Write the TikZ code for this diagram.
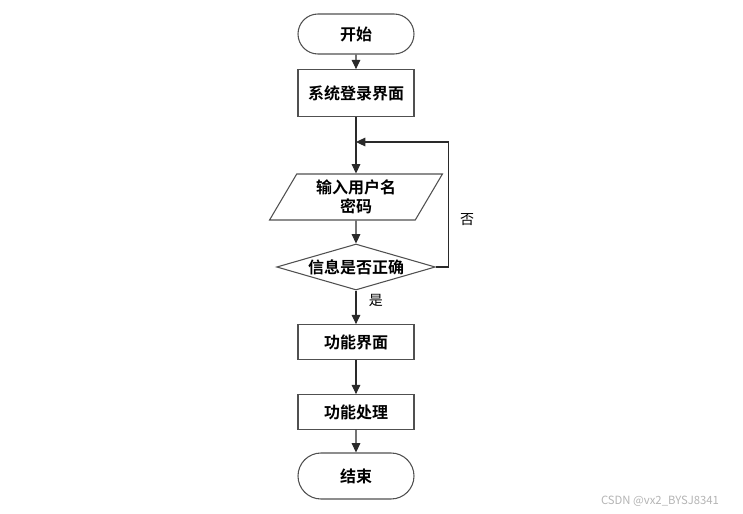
\documentclass[tikz,border=0pt]{standalone}
\usepackage{fontspec}
\setmainfont{Noto Sans CJK SC}
\newfontfamily\cjkbold{Noto Sans CJK SC Bold}
\usetikzlibrary{arrows.meta, positioning, shapes.geometric, shapes.misc}
\definecolor{lineGray}{HTML}{505050}
\definecolor{arrowDark}{HTML}{2A2A2A}
\definecolor{markGray}{HTML}{B4B4B4}

\begin{document}
\begin{tikzpicture}[
    x=0.75pt, y=-0.75pt,
    base/.style={draw=lineGray, line width=0.8pt, font=\cjkbold\fontsize{12}{14}\selectfont,
                 align=center, inner sep=0pt},
    term/.style={base, rounded rectangle, minimum width=87pt, minimum height=#1},
    stepbox/.style={base, rectangle, minimum width=87pt, minimum height=#1},
    io/.style={base, trapezium, trapezium left angle=61.5, trapezium right angle=118.5,
               trapezium stretches=true, minimum width=130pt, minimum height=34.5pt},
    decide/.style={base, diamond, aspect=3.4, minimum width=119pt, minimum height=34.5pt},
    flow/.style={draw=arrowDark, line width=0.8pt, -{Triangle[length=7pt, width=6.5pt]}},
    lbl/.style={font=\fontsize{10.5}{12}\selectfont},
  ]
    \useasboundingbox (0,0) rectangle (743,514);

    \node[term=30pt] (start) at (356,34) {开始};
    \node[stepbox=35pt] (login) at (356,93) {系统登录界面};
    \node[io] (input) at (356,197) {输入用户名\\密码};
    \node[decide] (check) at (356,267) {信息是否正确};
    \node[stepbox=26pt] (menu) at (356,342) {功能界面};
    \node[stepbox=26pt] (work) at (356,412) {功能处理};
    \node[term=34.5pt] (stop) at (356,476) {结束};
    \coordinate (back) at (356,142);

    \draw[flow] (start) -- (login);
    \draw[flow] (login) -- (input);
    \draw[flow] (input) -- (check);
    \draw[flow] (check) -- node[lbl, right=6pt, pos=0.3] {是} (menu);
    \draw[flow] (check.east) -- ++(13,0) |- (back);
    \draw[flow] (menu) -- (work);
    \draw[flow] (work) -- (stop);

    \node[lbl] (no) at (467,220) {否};
    \node[font=\fontsize{8.5}{10}\selectfont, text=markGray] (mark) at (660,501) {CSDN @vx2\_BYSJ8341};
  \end{tikzpicture}
\end{document}
